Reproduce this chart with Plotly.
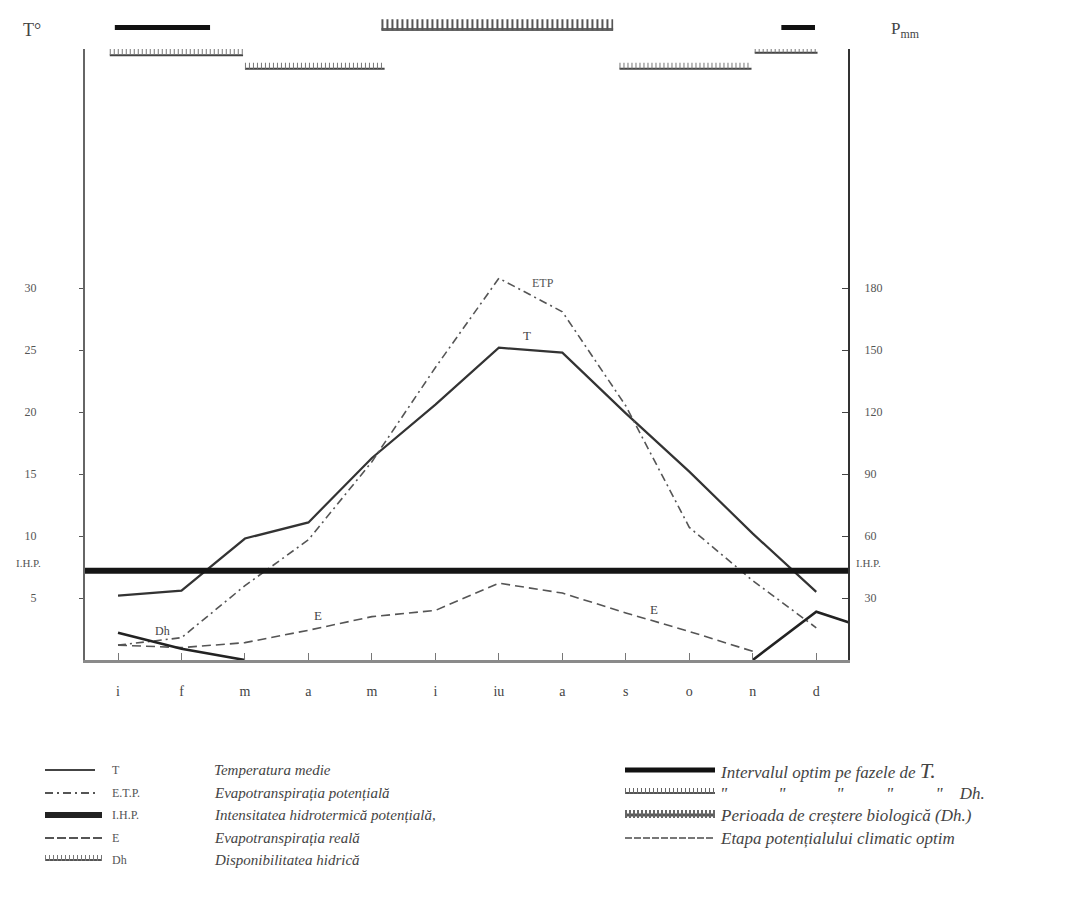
import plotly.graph_objects as go

# ---------------- data ----------------
months = ["i", "f", "m", "a", "m", "i", "iu", "a", "s", "o", "n", "d"]
month_idx = list(range(12))

T = [5.2, 5.6, 9.8, 11.1, 16.3, 20.6, 25.2, 24.8, 19.9, 15.2, 10.2, 5.5]
ETP = [1.2, 1.8, 6.0, 9.7, 16.0, 23.6, 30.8, 28.1, 20.5, 10.7, 6.4, 2.6]
E = [1.2, 1.0, 1.4, 2.4, 3.5, 4.0, 6.2, 5.4, 3.8, 2.3, 0.7, None]
# water availability; 13th value = following January (wrap-around)
DH = [2.2, 0.9, 0.0, None, None, None, None, None, None, None, 0.0, 3.9, 2.2]
DH_idx = list(range(13))
IHP = 7.2

left_ticks = [5, 10, 15, 20, 25, 30]
right_ticks = [30, 60, 90, 120, 150, 180]
P_FACTOR = 6

# interval bars above the diagram (month-index start / end)
t_opt_start = [-0.05, 10.45]
t_opt_end = [1.45, 10.98]
dh_period_start = [4.15]
dh_period_end = [7.80]
stage_start = [-0.13, 2.0, 7.9, 10.03]
stage_end = [1.97, 4.2, 9.98, 11.02]
stage_level = [48.8, 47.7, 47.7, 49.0]

# ---------------- geometry helpers ----------------
W, H = 1091, 901
PAGE_OFF = 8  # body margin of the html page
PLOT_L, PLOT_B = 85, 660  # page pixel coordinates of plot-area left / bottom
PW, PH = 763, 650
ML = PLOT_L - PAGE_OFF
MT = PLOT_B - PAGE_OFF - PH
MR = W - ML - PW
MB = H - MT - PH
Y_TOP = 49.3
MAIN_TOP = 0.94


def px(x):
    return (x - PLOT_L) / PW


def py(y):
    return (PLOT_B - y) / PH


fig = go.Figure()

# T
fig.add_trace(go.Scatter(x=month_idx, y=T, mode="lines",
                         line=dict(color="#333", width=2.2), name="T"))
# ETP
fig.add_trace(go.Scatter(x=month_idx, y=ETP, mode="lines",
                         line=dict(color="#555", width=1.6, dash="8px,4px,2px,4px"),
                         name="E.T.P."))
# E
fig.add_trace(go.Scatter(x=month_idx, y=E, mode="lines",
                         line=dict(color="#555", width=1.6, dash="9px,5px"), name="E"))
# Dh
fig.add_trace(go.Scatter(x=DH_idx, y=DH, mode="lines",
                         line=dict(color="#222", width=2.6), name="Dh"))
# IHP thick line
fig.add_trace(go.Scatter(x=[month_idx[0] - 1, month_idx[-1] + 1], y=[IHP, IHP], mode="lines",
                         line=dict(color="#151515", width=6), name="I.H.P."))

# stage segments inside the top of the frame
for s, e, lv in zip(stage_start, stage_end, stage_level):
    fig.add_trace(go.Scatter(x=[s, e], y=[lv, lv], mode="lines",
                             line=dict(color="#444", width=2)))
    fig.add_trace(go.Scatter(x=[s, e], y=[lv + 0.25, lv + 0.25], mode="lines",
                             line=dict(color="#777", width=6, dash="1px,3px")))

# row above frame (yaxis3)
for s, e in zip(t_opt_start, t_opt_end):
    fig.add_trace(go.Scatter(x=[s, e], y=[0.55, 0.55], mode="lines",
                             line=dict(color="#111", width=5), yaxis="y3", xaxis="x"))
for s, e in zip(dh_period_start, dh_period_end):
    fig.add_trace(go.Scatter(x=[s, e], y=[0.5, 0.5], mode="lines",
                             line=dict(color="#666", width=3), yaxis="y3", xaxis="x"))
    fig.add_trace(go.Scatter(x=[s, e], y=[0.62, 0.62], mode="lines",
                             line=dict(color="#555", width=11, dash="2px,3px"),
                             yaxis="y3", xaxis="x"))

# activates right axis
fig.add_trace(go.Scatter(x=[None], y=[None], yaxis="y2", mode="lines", showlegend=False))

fig.update_layout(
    width=W, height=H,
    margin=dict(l=ML, r=MR, t=MT, b=MB),
    paper_bgcolor="white", plot_bgcolor="white",
    showlegend=False,
    font=dict(family="Liberation Serif", color="#555", size=13),
    xaxis=dict(range=[-0.52, 11.5], tickmode="array", tickvals=month_idx, ticktext=months,
               showgrid=False, zeroline=False, showline=True, linecolor="#8a8a8a", linewidth=3,
               ticks="inside", ticklen=7, tickcolor="#777", ticklabelstandoff=16,
               tickfont=dict(size=14, color="#444"), anchor="y"),
    yaxis=dict(domain=[0, MAIN_TOP], range=[0, Y_TOP], tickmode="array",
               tickvals=left_ticks, ticktext=[str(v) for v in left_ticks],
               showgrid=False, zeroline=False, showline=True, linecolor="#666", linewidth=2,
               ticks="outside", ticklen=4, tickcolor="#555", ticklabelstandoff=40,
               tickfont=dict(size=12, color="#555"), anchor="x"),
    yaxis2=dict(overlaying="y", side="right", range=[0, Y_TOP * P_FACTOR], tickmode="array",
                tickvals=right_ticks, ticktext=[str(v) for v in right_ticks],
                showgrid=False, zeroline=False, showline=True, linecolor="#333", linewidth=2,
                ticks="inside", ticklen=6, tickcolor="#444", ticklabelstandoff=12,
                tickfont=dict(size=12, color="#555"), anchor="x"),
    yaxis3=dict(domain=[MAIN_TOP, 1], range=[0, 1], visible=False, anchor="x"),
)

ann = []


def note(x, y, text, size, color="#444", xa="center", italic=False, yref="paper"):
    f = dict(size=size, color=color)
    if italic:
        f["style"] = "italic"
    ann.append(dict(x=x, y=y, xref="paper", yref=yref, text=text, showarrow=False,
                    xanchor=xa, yanchor="middle", font=f))


# axis titles
note(px(32), py(30), "T°", 18)
note(px(905), py(30), "P<sub>mm</sub>", 17)
# IHP labels on axes
note(px(28), IHP + 0.6, "I.H.P.", 11, "#555", yref="y")
note(px(868), IHP + 0.6, "I.H.P.", 11, "#555", yref="y")
# in-plot labels
ann.append(dict(x=6.7, y=30.4, text="ETP", showarrow=False, font=dict(size=12, color="#555")))
ann.append(dict(x=6.45, y=26.2, text="T", showarrow=False, font=dict(size=13, color="#444")))
ann.append(dict(x=3.15, y=3.6, text="E", showarrow=False, font=dict(size=13, color="#444")))
ann.append(dict(x=8.45, y=4.1, text="E", showarrow=False, font=dict(size=13, color="#444")))
ann.append(dict(x=0.7, y=2.3, text="Dh", showarrow=False, font=dict(size=12, color="#444")))

# legend (left)
left_rows = [770, 793, 815, 838, 860]
left_sym = ["T", "E.T.P.", "I.H.P.", "E", "Dh"]
left_desc = ["Temperatura medie",
             "Evapotranspirația potențială",
             "Intensitatea hidrotermică potențială,",
             "Evapotranspirația reală",
             "Disponibilitatea hidrică"]
for yy, s, d in zip(left_rows, left_sym, left_desc):
    note(px(110), py(yy), s, 12, "#555", xa="left")
    note(px(212), py(yy), d, 15, "#444", xa="left", italic=True)

right_rows = [770, 793, 815, 838]
right_desc = ["Intervalul optim pe fazele de <span style='font-size:22px'>T.</span>",
              "\"            \"            \"          \"          \"    Dh.",
              "Perioada de creștere biologică (Dh.)",
              "Etapa potențialului climatic optim"]
for yy, d in zip(right_rows, right_desc):
    note(px(718), py(yy), d, 17, "#444", xa="left", italic=True)

fig.update_layout(annotations=ann)

# legend keys (paper shapes)
shapes = []


def key(x0, x1, y, **line):
    shapes.append(dict(type="line", xref="paper", yref="paper", x0=px(x0), x1=px(x1),
                       y0=py(y), y1=py(y), line=line))


key(45, 95, 770, color="#444", width=2)
key(45, 95, 793, color="#555", width=2, dash="8px,4px,2px,4px")
key(45, 102, 815, color="#222", width=6)
key(45, 102, 838, color="#555", width=2, dash="9px,3px")
key(45, 102, 860, color="#555", width=2)
key(45, 102, 858, color="#777", width=6, dash="1px,3px")

key(625, 715, 770, color="#111", width=5)
key(625, 715, 793, color="#555", width=2)
key(625, 715, 791, color="#666", width=6, dash="1px,3px")
key(625, 715, 815, color="#555", width=3)
key(625, 715, 814, color="#666", width=8, dash="2px,2px")
key(625, 715, 838, color="#777", width=2, dash="7px,2px")
fig.update_layout(shapes=shapes)

fig.write_html("out.html")
